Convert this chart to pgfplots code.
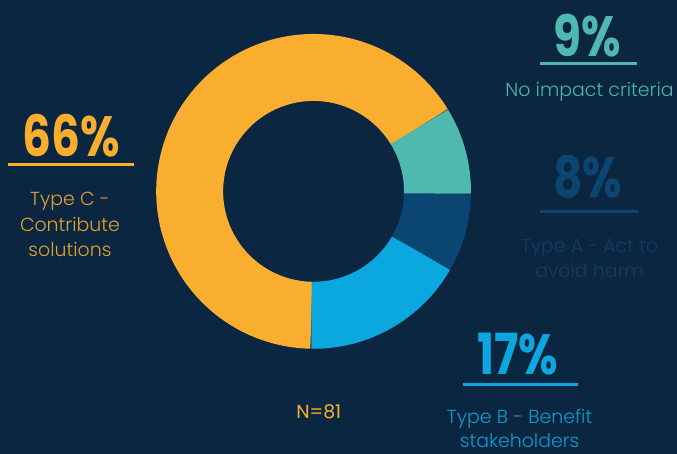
\documentclass[border=0pt]{standalone}
\usepackage{pgfplots}
\pgfplotsset{compat=1.18}
\usepackage{fontspec}
\setmainfont{Poppins}[UprightFont=* Light, BoldFont=* SemiBold]
\newfontfamily\pctfont{Poppins}[UprightFont=* Bold, FakeStretch=0.8]
\newfontfamily\regfont{Poppins}
\definecolor{bg}{HTML}{0B2640}
\definecolor{cOr}{HTML}{F9AE2F}
\definecolor{cTe}{HTML}{4FB9AF}
\definecolor{cDb}{HTML}{0B4673}
\definecolor{cLb}{HTML}{0BA8E0}
\definecolor{tOr}{HTML}{E3A030}
\definecolor{tTe}{HTML}{4AB5AC}
\definecolor{tDb}{HTML}{0F3D66}
\definecolor{tLb}{HTML}{1199CC}
% data: percentages (Type B, Type A, No impact, Type C)
\def\pB{17}\def\pA{8}\def\pN{9}\def\pC{66}
\begin{document}
\begin{tikzpicture}
\begin{axis}[width=677bp,height=454bp,scale only axis,
  xmin=0,xmax=677,ymin=0,ymax=454,hide axis,clip=false]
\fill[bg] (axis cs:0,0) rectangle (axis cs:677,454);
\pgfmathsetmacro\aS{269}
\pgfmathsetmacro\aB{\aS+3.6*\pB}
\pgfmathsetmacro\aA{\aB+3.6*\pA}
\pgfmathsetmacro\aN{\aA+3.6*\pN}
\pgfmathsetmacro\aC{\aN+3.6*\pC}
\addplot[draw=cOr, line width=67bp, domain=\aN:\aC, samples=160, variable=\t] ({313.8+124*cos(\t)},{262.5+124*sin(\t)});
\addplot[draw=cLb, line width=67bp, domain=\aS:\aB, samples=50, variable=\t] ({313.8+124*cos(\t)},{262.5+124*sin(\t)});
\addplot[draw=cDb, line width=67bp, domain=\aB:\aA, samples=30, variable=\t] ({313.8+124*cos(\t)},{262.5+124*sin(\t)});
\addplot[draw=cTe, line width=67bp, domain=\aA:\aN, samples=30, variable=\t] ({313.8+124*cos(\t)},{262.5+124*sin(\t)});
% labels
\tikzset{desc/.style={anchor=base, font=\fontsize{19}{22}\selectfont}}
\node[anchor=base, text=cTe, font=\pctfont\fontsize{57}{57}\selectfont] at (axis cs:588,397) {9\%};
\draw[cTe, line width=3bp] (axis cs:540,390.7) -- (axis cs:637,390.7);
\node[desc, text=tTe] at (axis cs:590,357) {No impact criteria};
\node[anchor=base, text=cDb, font=\pctfont\fontsize{57}{57}\selectfont] at (axis cs:588,256) {8\%};
\draw[cDb, line width=3bp] (axis cs:540,242) -- (axis cs:638,242);
\node[desc, text=tDb] at (axis cs:590,201) {Type A - Act to};
\node[desc, text=tDb] at (axis cs:590,176) {avoid harm};
\node[anchor=base, text=cOr, font=\pctfont\fontsize{57}{57}\selectfont] at (axis cs:71,297) {66\%};
\draw[cOr, line width=3bp] (axis cs:8,289) -- (axis cs:134,289);
\node[desc, text=tOr] at (axis cs:70,248) {Type C -};
\node[desc, text=tOr] at (axis cs:70,222) {Contribute};
\node[desc, text=tOr] at (axis cs:70,197) {solutions};
\node[anchor=base, text=cLb, font=\pctfont\fontsize{57}{57}\selectfont] at (axis cs:518,79) {17\%};
\draw[cLb, line width=3bp] (axis cs:463,69) -- (axis cs:578,69);
\node[desc, text=tLb] at (axis cs:520,30) {Type B - Benefit};
\node[desc, text=tLb, inner sep=0pt, text depth=0pt] at (axis cs:520,6) {stakeholders};
\node[anchor=base, text=cOr, font=\regfont\fontsize{19}{20}\selectfont] at (axis cs:319,35) {N=81};
\end{axis}
\end{tikzpicture}
\end{document}
